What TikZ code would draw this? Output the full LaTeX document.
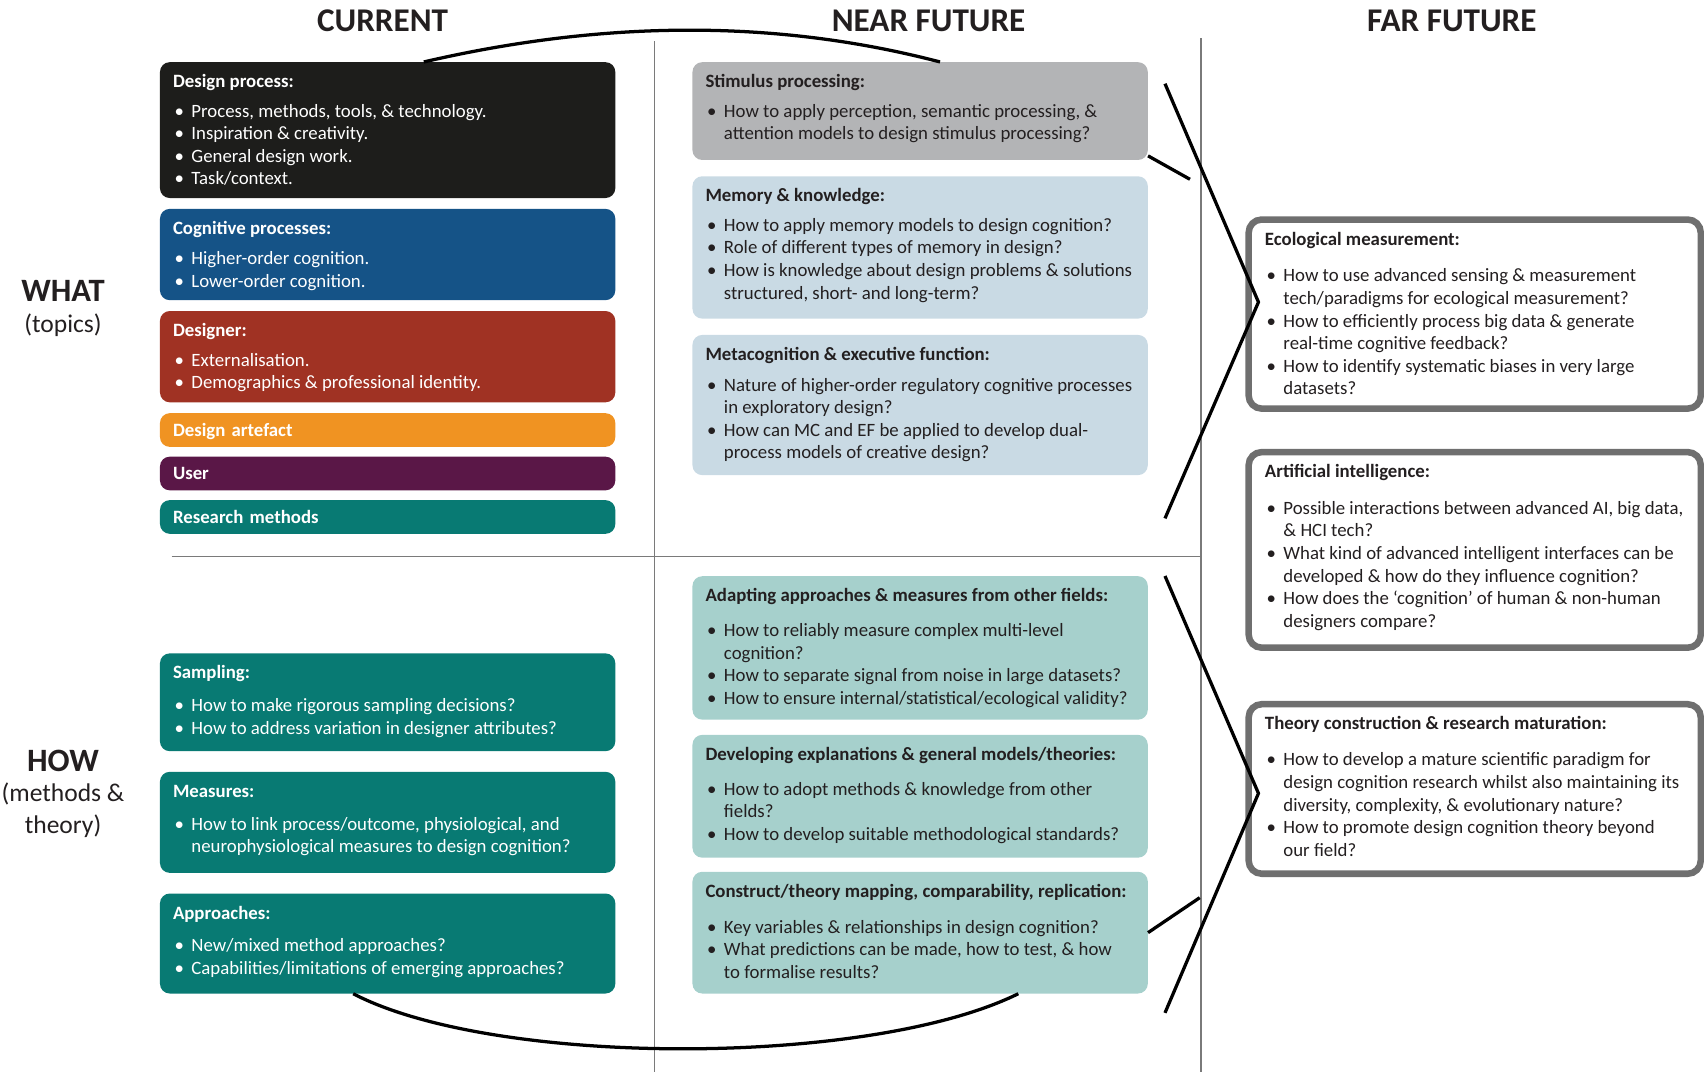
\documentclass[tikz,border=0pt]{standalone}
\usepackage{fontspec}
\setmainfont{Carlito}
\usetikzlibrary{positioning, calc}

\definecolor{dpblack}{HTML}{1D1D1B}
\definecolor{cogblue}{HTML}{155387}
\definecolor{desred}{HTML}{A03223}
\definecolor{artorange}{HTML}{F09322}
\definecolor{userpurple}{HTML}{5A1747}
\definecolor{methteal}{HTML}{087A73}
\definecolor{stimgray}{HTML}{B3B4B6}
\definecolor{memblue}{HTML}{C9DAE4}
\definecolor{howteal}{HTML}{A6D0CC}
\definecolor{rimgray}{HTML}{6F6F6F}
\definecolor{rulegray}{HTML}{7A7A7A}
\definecolor{inkdark}{HTML}{231F20}

\newlength{\cardw}
\newlength{\cardpad}
\newcommand{\cardfont}{\fontsize{17.3}{20.8}\selectfont}
% height, gap after title, title, bullets
\newcommand{\cardtext}[4]{%
  \parbox[t][#1pt][t]{\cardw}{\leftskip=\cardpad\rightskip=-30pt plus 1fil\parindent=0pt
  \rule{0pt}{23.5pt}\textbf{#3}\par\vspace{#2pt}#4}}
\newcommand{\itm}{\par\hangindent=17pt\hangafter=1\noindent\hbox to 17pt{\hspace{1.5pt}\textbullet\hfil}}

\begin{document}
\begin{tikzpicture}[
    x=1pt, y=-1pt,
    lcard/.style={anchor=north west, inner sep=0pt, rounded corners=9pt, text=white, font=\cardfont,
        execute at begin node={\setlength{\cardw}{419pt}\setlength{\cardpad}{12pt}}},
    mcard/.style={lcard, text=inkdark},
    rcard/.style={anchor=north west, inner sep=0pt, rounded corners=12pt, draw=rimgray, line width=6pt, fill=white, text=inkdark, font=\cardfont,
        execute at begin node={\setlength{\cardw}{416pt}\setlength{\cardpad}{15pt}}},
    tagbox/.style={anchor=north west, inner xsep=12pt, inner ysep=0pt, text width=395pt, minimum height=31pt, text height=11.2pt, text depth=0pt, rounded corners=9pt, text=white, font=\cardfont\bfseries},
    colhead/.style={font=\fontsize{30.5}{36}\selectfont\bfseries, text=inkdark},
    rowhead/.style={font=\fontsize{30}{36}\selectfont\bfseries, text=inkdark},
    rowsub/.style={font=\fontsize{23.5}{29}\selectfont, text=inkdark, align=center},
    divider/.style={rulegray, line width=1.3pt},
    link/.style={black, line width=3pt}
]
\useasboundingbox (0,0) rectangle (1568,986);

% Grid lines
\draw[divider] (602,38) -- (602,986);
\draw[divider] (1105,35) -- (1105,986);
\draw[divider] (158,512) -- (1105,512);

% Headings
\node[colhead] (current) at (352,19) {CURRENT};
\node[colhead] (near) at (854.5,19) {NEAR FUTURE};
\node[colhead] (far) at (1336,19) {FAR FUTURE};
\node[rowhead] (what) at (58,268) {WHAT};
\node[rowsub] (topics) at (58,299) {(topics)};
\node[rowhead] (how) at (58,700) {HOW};
\node[rowsub] (methods) at (58,745.5) {(methods \&\\theory)};

% Current - what
\node[lcard, fill=dpblack] (design) at (147,57) {\cardtext{125}{6.3}{Design process:}{%
  \itm Process, methods, tools, \& technology.
  \itm Inspiration \& creativity.
  \itm General design work.
  \itm Task/context.}};
\node[lcard, fill=cogblue] (cognitive) at (147,192) {\cardtext{84}{7.3}{Cognitive processes:}{%
  \itm Higher-order cognition.
  \itm Lower-order cognition.}};
\node[lcard, fill=desred] (designer) at (147,286) {\cardtext{84}{6.3}{Designer:}{%
  \itm Externalisation.
  \itm Demographics \& professional identity.}};
\node[tagbox, fill=artorange] (artefact) at (147,380) {Design artefact};
\node[tagbox, fill=userpurple] (user) at (147,420) {User};
\node[tagbox, fill=methteal] (research) at (147,460) {Research methods};

% Current - how
\node[lcard, fill=methteal] (sampling) at (147,601) {\cardtext{90}{9.3}{Sampling:}{%
  \itm How to make rigorous sampling decisions?
  \itm How to address variation in designer attributes?}};
\node[lcard, fill=methteal] (measures) at (147,710) {\cardtext{93}{9.3}{Measures:}{%
  \itm How to link process/outcome, physiological, and\\neurophysiological measures to design cognition?}};
\node[lcard, fill=methteal] (approaches) at (147,822) {\cardtext{92}{9.3}{Approaches:}{%
  \itm New/mixed method approaches?
  \itm Capabilities/limitations of emerging approaches?}};

% Near future - what
\node[mcard, fill=stimgray] (stimulus) at (637,57) {\cardtext{90}{6.3}{Stimulus processing:}{%
  \itm How to apply perception, semantic processing, \&\\attention models to design stimulus processing?}};
\node[mcard, fill=memblue] (memory) at (637,162) {\cardtext{131}{6.3}{Memory \& knowledge:}{%
  \itm How to apply memory models to design cognition?
  \itm Role of different types of memory in design?
  \itm How is knowledge about design problems \& solutions\\structured, short- and long-term?}};
\node[mcard, fill=memblue] (metacog) at (637,308) {\cardtext{129}{7.3}{Metacognition \& executive function:}{%
  \itm Nature of higher-order regulatory cognitive processes\\in exploratory design?
  \itm How can MC and EF be applied to develop dual-\\process models of creative design?}};

% Near future - how
\node[mcard, fill=howteal] (adapting) at (637,530) {\cardtext{132}{11.3}{Adapting approaches \& measures from other fields:}{%
  \itm How to reliably measure complex multi-level\\cognition?
  \itm How to separate signal from noise in large datasets?
  \itm How to ensure internal/statistical/ecological validity?}};
\node[mcard, fill=howteal] (developing) at (637,676) {\cardtext{113}{11.3}{Developing explanations \& general models/theories:}{%
  \itm How to adopt methods \& knowledge from other\\fields?
  \itm How to develop suitable methodological standards?}};
\node[mcard, fill=howteal] (construct) at (637,802) {\cardtext{112}{12.3}{Construct/theory mapping, comparability, replication:}{%
  \itm Key variables \& relationships in design cognition?
  \itm What predictions can be made, how to test, \& how\\to formalise results?}};

% Far future
\node[rcard] (ecological) at (1146,199) {\cardtext{174}{13}{Ecological measurement:}{%
  \itm How to use advanced sensing \& measurement\\tech/paradigms for ecological measurement?
  \itm How to efficiently process big data \& generate\\real-time cognitive feedback?
  \itm How to identify systematic biases in very large\\datasets?}};
\node[rcard] (ai) at (1146,413) {\cardtext{180}{13}{Artificial intelligence:}{%
  \itm Possible interactions between advanced AI, big data,\\\& HCI tech?
  \itm What kind of advanced intelligent interfaces can be\\developed \& how do they influence cognition?
  \itm How does the ‘cognition’ of human \& non-human\\designers compare?}};
\node[rcard] (theory) at (1146,645) {\cardtext{156}{12.5}{Theory construction \& research maturation:}{%
  \itm How to develop a mature scientific paradigm for\\design cognition research whilst also maintaining its\\diversity, complexity, \& evolutionary nature?
  \itm How to promote design cognition theory beyond\\our field?}};

% Arcs between current and near future
\draw[link] ([xshift=243pt]design.north west) .. controls (558,18) and (716,18) .. ([xshift=228pt]stimulus.north west);
\draw[link] ([xshift=178pt]approaches.south west) .. controls (455,982) and (800,982) .. ([xshift=300pt]construct.south west);

% Chevrons towards far future
\coordinate (whattop) at (1072,77);
\coordinate (whatapex) at (1158,278);
\coordinate (whatbot) at (1072,477);
\coordinate (howtop) at (1072,530);
\coordinate (howapex) at (1158,730);
\coordinate (howbot) at (1072,932);
\coordinate (stimtip) at (1095,165);
\coordinate (consttip) at (1104,826);
\draw[link] (whattop) -- (whatapex) -- (whatbot);
\draw[link] (howtop) -- (howapex) -- (howbot);
\draw[link] ([shift={(0,-4)}]stimulus.south east) -- (stimtip);
\draw[link] (construct.east) -- (consttip);

\end{tikzpicture}
\end{document}
